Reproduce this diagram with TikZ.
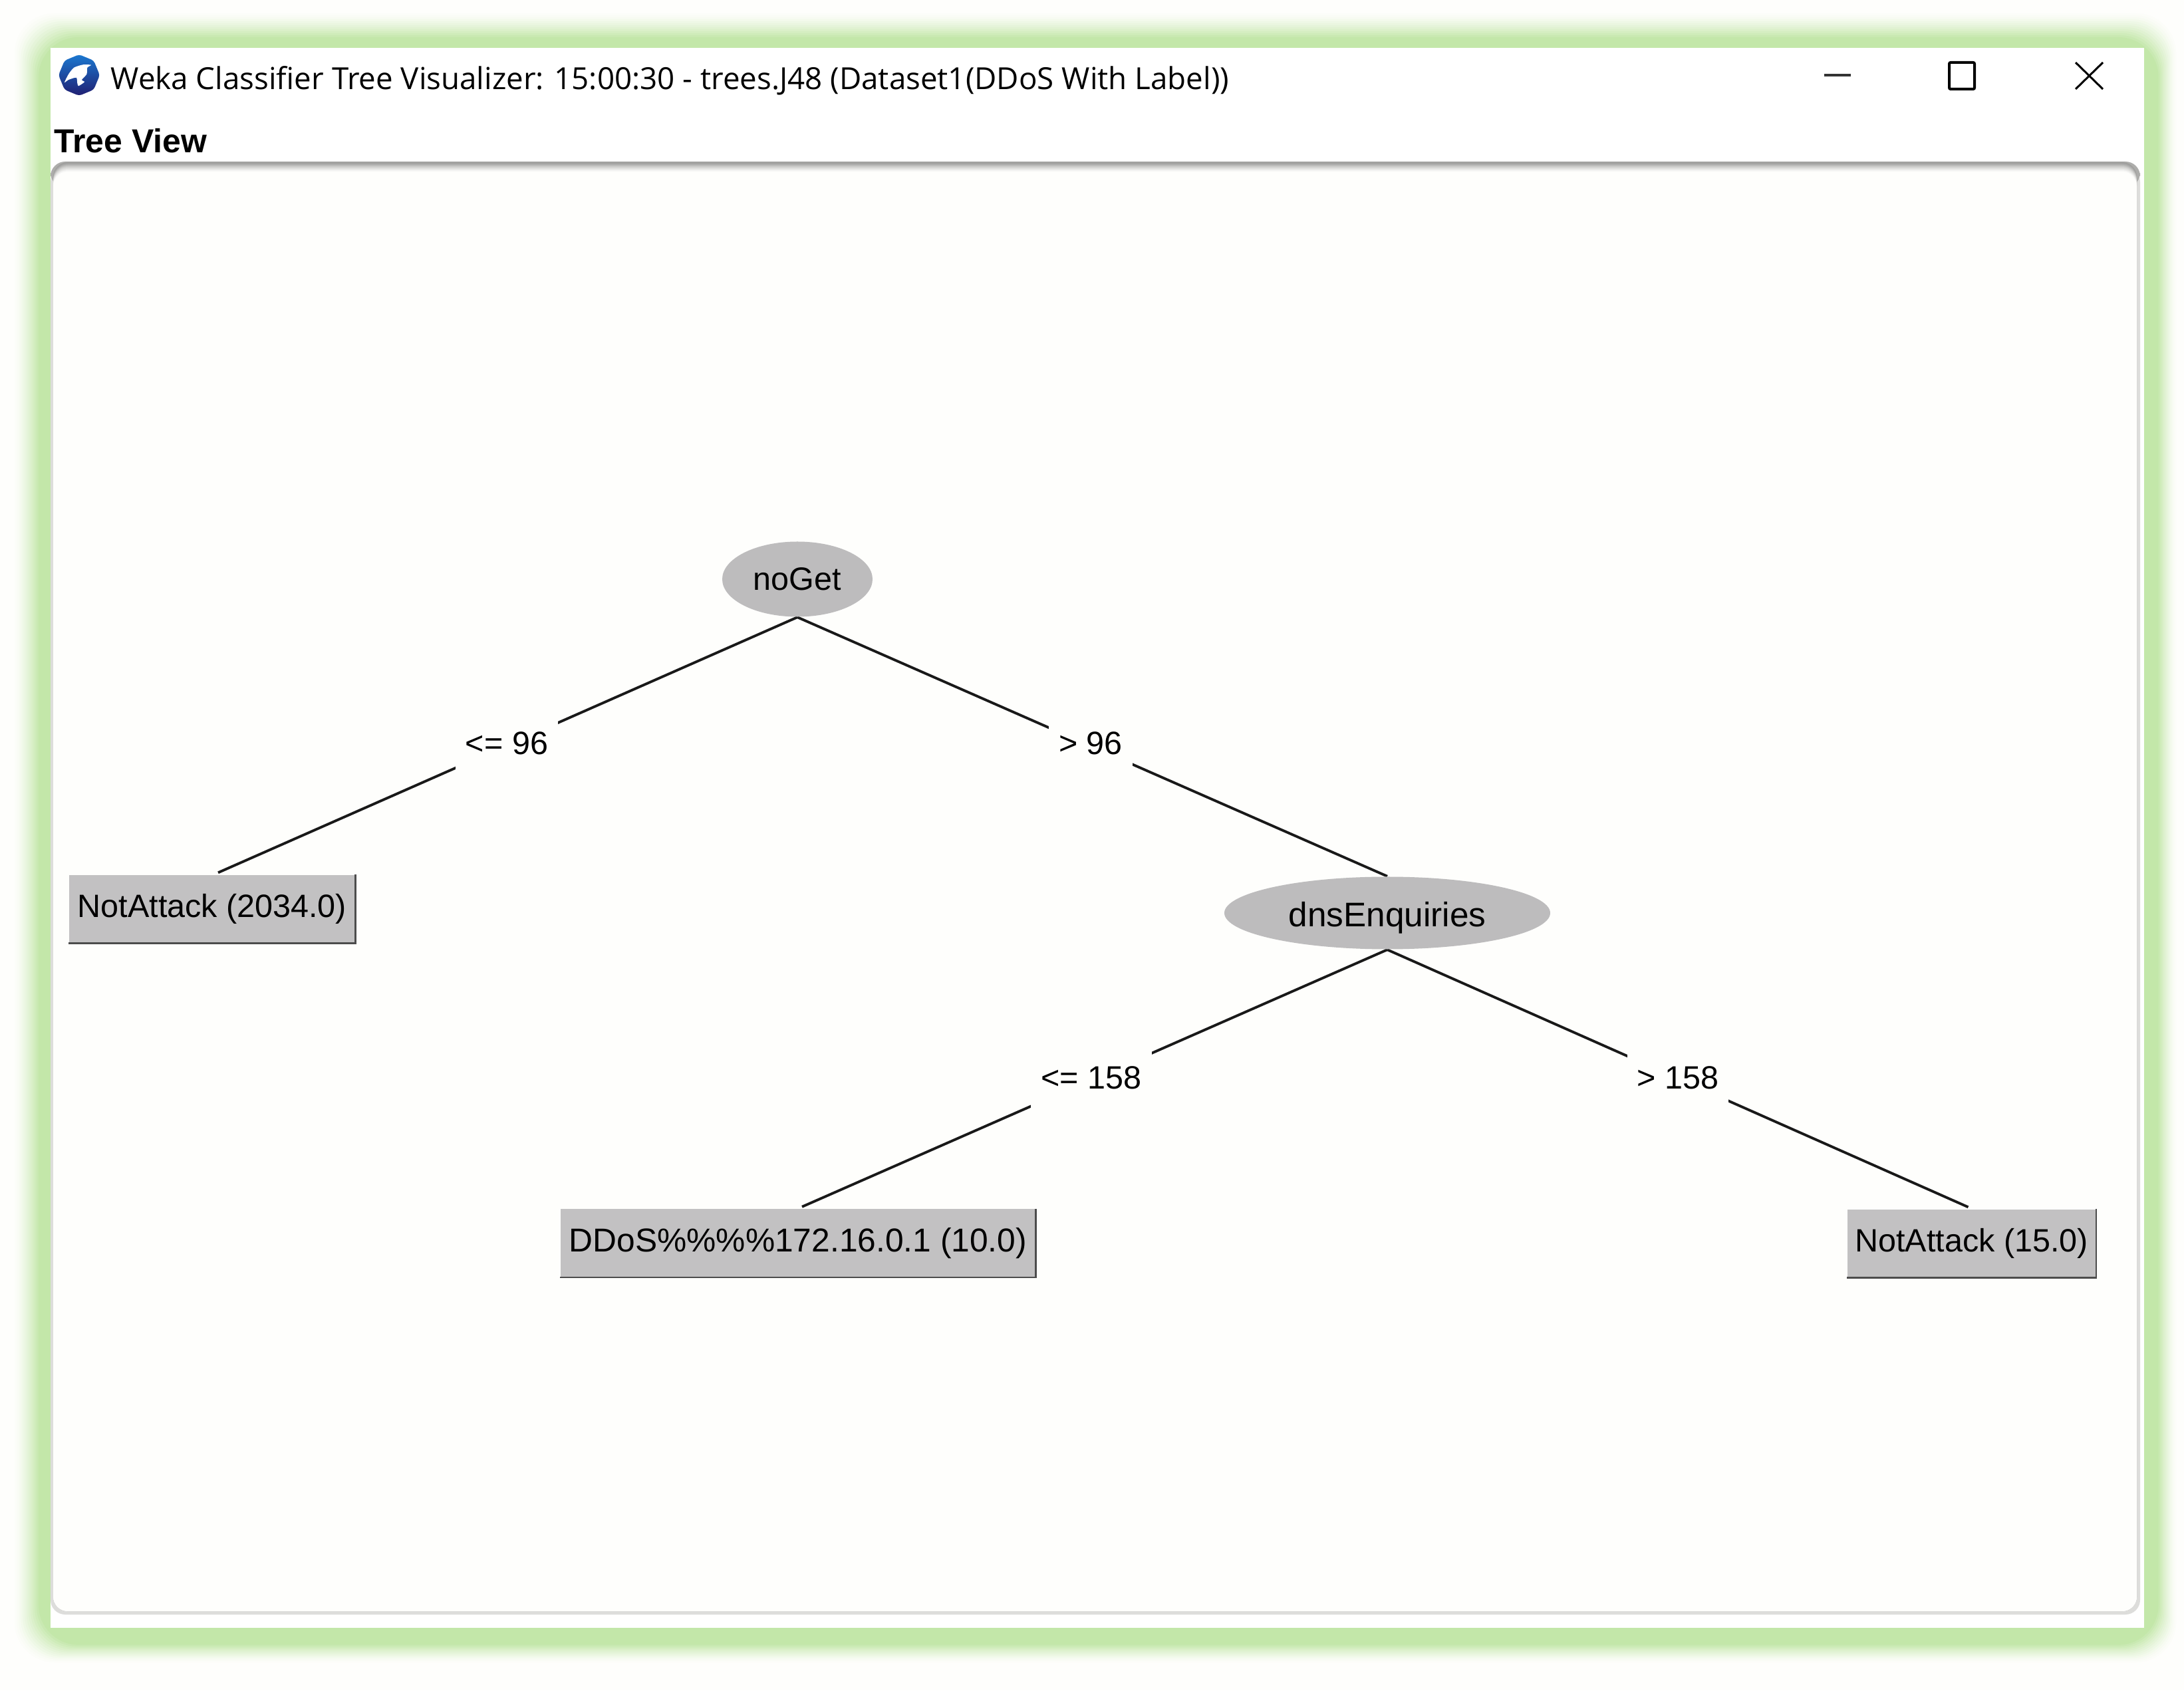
\documentclass[tikz,border=0pt]{standalone}
\usepackage{fontspec}
\setmainfont{Liberation Sans}
\newfontfamily\titlefont{Open Sans}
\usetikzlibrary{shapes,positioning,calc}
\definecolor{glowgreen}{HTML}{C3E7A9}
\definecolor{nodegray}{HTML}{C2C1C2}
\definecolor{ovalgray}{HTML}{BDBCBD}
\definecolor{pagewhite}{HTML}{FEFEFC}
\definecolor{iconblue}{HTML}{1B78D0}
\definecolor{iconnavy}{HTML}{201F72}
\tikzstyle{decision} = [ellipse, fill=ovalgray, inner sep=0pt]
\tikzstyle{leaf} = [rectangle, fill=nodegray, inner sep=0pt, minimum height=1.02cm]
\tikzstyle{edgelabel} = [fill=pagewhite, inner xsep=0.15cm, inner ysep=0pt, minimum height=0.9cm]
\tikzstyle{treeline} = [draw, line width=1.1pt, black!90]
\tikzstyle{leafedge} = [draw, line width=0.7pt, black!70]
\pgfdeclarelayer{background}
\pgfsetlayers{background,main}
\begin{document}
\begin{tikzpicture}[on grid, font=\fontsize{13.8}{16}\selectfont]
      \useasboundingbox (0,0) rectangle (32.84,25.42);
      \begin{pgfonlayer}{background}
      \fill[pagewhite] (0,0) rectangle (32.84,25.42);
      % green glow
      \foreach \k in {0,...,12}{
        \pgfmathsetmacro{\mix}{min(100,3+3.83*\k^1.3)}
        \fill[glowgreen!\mix!pagewhite, rounded corners=0.6cm] (0.22+0.03*\k,0.42+0.022*\k) rectangle (32.72-0.022*\k,25.22-0.03*\k);
      }
      \fill[white] (0.76,0.94) rectangle (32.24,24.70);
      % tree panel
      \fill[black!13!pagewhite, rounded corners=0.22cm] (0.76,1.14) rectangle (32.18,22.90);
      \fill[black!32!pagewhite, rounded corners=0.22cm] (32.18,22.99) -- (0.76,22.99) -- (0.76,22.6) -- (32.18,22.6) -- cycle;
      \foreach \k/\c in {0/38,2/33,4/26,6/19,8/13,10/8,12/3,14/0}{
        \fill[black!\c!pagewhite, rounded corners=0.22cm] (0.80,1.19) rectangle (32.13,22.98-0.01*\k);
      }
      \end{pgfonlayer}
      \node[regular polygon, regular polygon sides=8, shape border rotate=22.5, minimum size=0.62cm, inner sep=0pt, rounded corners=0.04cm, top color=iconblue, bottom color=iconnavy] (icon) at (1.19,24.29) {};
      \fill[white, shift={(icon.center)}] plot[smooth cycle, tension=0.4] coordinates {(-0.22,-0.11) (-0.16,0.013) (-0.077,0.113) (0.057,0.157) (0.18,0.153) (0.123,0.113) (0.113,0.013) (0.04,-0.07) (0.08,-0.103) (-0.01,-0.163) (-0.027,-0.12) (-0.043,-0.037) (-0.16,-0.07)};
      \node[anchor=west, inner sep=0pt, font=\titlefont\fontsize{13}{16}\selectfont] (title) at (1.66,24.21) {Weka Classifier Tree Visualizer: 15:00:30 - trees.J48 (Dataset1(DDoS With Label))};
      \node[anchor=west, inner sep=0pt, font=\bfseries\fontsize{14.2}{16}\selectfont] (treeview) at (0.81,23.30) {Tree View};
      \draw[black!80, line width=0.4mm] (27.43,24.29) -- (27.83,24.29);
      \draw[line width=0.4mm, rounded corners=0.02cm] (29.31,24.08) rectangle (29.69,24.48);
      \draw[line width=0.3mm] (31.21,24.08) -- (31.62,24.48);
      \draw[line width=0.3mm] (31.21,24.48) -- (31.62,24.08);
      % tree
      \node[decision, minimum width=2.26cm, minimum height=1.13cm] (noGet) at (11.99,16.71) {noGet};
      \node[edgelabel, below left=2.47cm and 4.37cm of noGet] (leNoGet) {<= 96};
      \node[edgelabel, below right=2.47cm and 4.41cm of noGet] (gtNoGet) {> 96};
      \node[leaf, below left=4.96cm and 8.80cm of noGet, minimum width=4.30cm] (leafA) {NotAttack (2034.0)};
      \node[decision, below right=5.02cm and 8.87cm of noGet, minimum width=4.9cm, minimum height=1.09cm, text height=0.41cm, text depth=0pt, font=\fontsize{14.6}{16}\selectfont] (dns) {dnsEnquiries};
      \node[edgelabel, below left=2.48cm and 4.45cm of dns] (leDns) {<= 158};
      \node[edgelabel, below right=2.48cm and 4.37cm of dns] (gtDns) {> 158};
      \node[leaf, below left=4.965cm and 8.86cm of dns, minimum width=7.14cm, font=\fontsize{14.15}{16}\selectfont] (leafB) {DDoS\%\%\%\%172.16.0.1 (10.0)};
      \node[leaf, below right=4.97cm and 8.785cm of dns, minimum width=3.73cm] (leafC) {NotAttack (15.0)};
      \begin{pgfonlayer}{background}
        \path[treeline] (noGet.south) -- ([xshift=0.09cm,yshift=0.03cm]leafA.north);
        \path[treeline] (noGet.south) -- (dns.north);
        \path[treeline] (dns.south) -- ([xshift=0.06cm,yshift=0.03cm]leafB.north);
        \path[treeline] (dns.south) -- ([xshift=-0.05cm,yshift=0.03cm]leafC.north);
      \end{pgfonlayer}
      \foreach \leafname in {leafA,leafB,leafC}{
        \path[leafedge] (\leafname.north east) -- (\leafname.south east) -- (\leafname.south west);
      }
\end{tikzpicture}
\end{document}
